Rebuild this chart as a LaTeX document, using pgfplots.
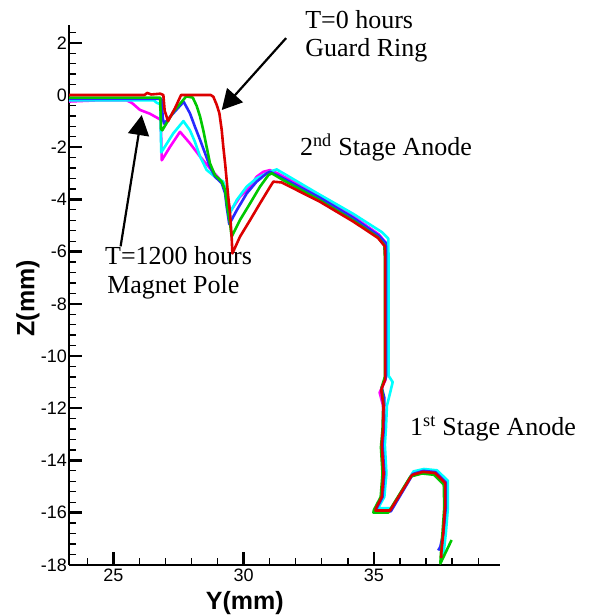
\documentclass[border=0pt]{standalone}
\usepackage{pgfplots}
\pgfplotsset{compat=1.18}
\usepackage{fontspec}
\setmainfont{Liberation Sans}
\newfontfamily\tnr{Liberation Serif}
\usetikzlibrary{arrows.meta}
\definecolor{cred}{RGB}{220,0,0}
\definecolor{cgreen}{RGB}{0,200,0}
\definecolor{cblue}{RGB}{40,40,255}
\definecolor{ccyan}{RGB}{0,255,255}
\definecolor{cmag}{RGB}{255,0,255}
\tikzset{note/.style={anchor=base west, inner sep=0pt, font=\tnr\fontsize{26}{28}\selectfont}, pointer/.style={line width=2.2pt, -{Triangle[length=20pt,width=21pt]}}}

\begin{document}
\begin{tikzpicture}
\begin{axis}[x=26.06pt, y=26.1pt, xmin=23.3, xmax=39.84, ymin=-18, ymax=2.68,
  axis lines*=left, axis line style={line width=2.4pt}, tick align=inside,
  xtick={25,30,35}, ytick={-18,-16,...,2},
  minor xtick={24,26,27,28,29,31,32,33,34,36,37,38,39},
  minor ytick={-17.6,-17.2,...,2.5},
  major tick length=13pt, minor tick length=7pt,
  every major tick/.append style={line width=2.4pt, black},
  every minor tick/.append style={line width=1.3pt, black},
  tick label style={font=\fontsize{18}{20}\selectfont},
  /pgf/number format/assume math mode=true,
  yticklabel style={inner sep=2pt}, xticklabel style={inner sep=4pt},
  xlabel={Y(mm)}, ylabel={Z(mm)},
  every axis x label/.style={at={(axis description cs:0.408,0)}, anchor=center, yshift=-38pt, font=\fontsize{25}{28}\selectfont\bfseries},
  every axis y label/.style={at={(axis description cs:0,0.494)}, anchor=center, xshift=-41pt, rotate=90, font=\fontsize{25}{28}\selectfont\bfseries},
  every axis plot/.append style={line width=2.6pt, line join=round},
  clip=false]

% T = 1200 hours
\addplot[cmag] coordinates {(23.3,-0.25) (24.5,-0.2) (25.5,-0.2) (25.71,-0.3) (26.02,-0.57) (26.41,-0.72) (26.73,-0.9) (26.82,-0.95) (26.86,-2.5) (27.18,-1.98) (27.56,-1.41) (27.94,-1.85) (28.33,-2.36) (28.71,-2.81) (28.97,-3.1) (29.22,-3.38) (29.5,-4.45) (29.86,-3.9) (30.25,-3.51) (30.5,-3.13) (30.76,-2.94) (31.01,-2.88) (31.3,-3.0) (32.9,-3.85) (34.2,-4.65) (35.2,-5.35) (35.45,-5.65) (35.45,-6.2) (35.45,-10.9) (35.22,-11.4) (35.35,-11.9) (35.36,-12.8) (35.31,-13.4) (35.38,-14.5) (35.31,-15.4) (35.1,-15.85) (35.08,-15.93) (35.64,-15.93) (36.48,-14.5) (36.9,-14.4) (37.36,-14.44) (37.76,-14.84) (37.78,-15.8) (37.7,-16.8) (37.62,-17.5) (37.6,-17.7)};
\addplot[ccyan] coordinates {(23.3,-0.2) (26.55,-0.2) (26.67,-0.3) (26.8,-0.35) (26.84,-2.2) (27.3,-1.47) (27.69,-1.0) (27.94,-1.35) (28.13,-1.79) (28.33,-2.36) (28.58,-2.87) (28.9,-3.13) (29.22,-3.32) (29.35,-3.77) (29.43,-4.6) (29.74,-4.02) (30.12,-3.51) (30.5,-3.19) (31.01,-2.94) (31.27,-2.85) (32.8,-3.75) (34.2,-4.55) (35.3,-5.25) (35.55,-5.5) (35.56,-6.2) (35.56,-10.75) (35.72,-11.0) (35.6,-11.5) (35.5,-11.9) (35.46,-12.8) (35.42,-13.4) (35.48,-14.5) (35.4,-15.4) (35.16,-15.83) (35.7,-15.83) (36.52,-14.42) (36.92,-14.33) (37.42,-14.38) (37.84,-14.78) (37.84,-15.8) (37.76,-16.8) (37.68,-17.5) (37.65,-17.7)};
\addplot[cblue] coordinates {(23.3,-0.15) (26.85,-0.15) (26.9,-0.9) (26.95,-1.1) (27.3,-0.7) (27.7,-0.26) (27.94,-0.7) (28.13,-1.21) (28.33,-1.72) (28.52,-2.23) (28.71,-2.75) (28.9,-3.13) (29.16,-3.38) (29.29,-3.77) (29.35,-4.28) (29.45,-4.95) (29.74,-4.41) (30.12,-3.77) (30.5,-3.32) (30.89,-3.0) (31.01,-2.94) (31.4,-3.13) (32.9,-3.92) (34.2,-4.7) (35.2,-5.4) (35.46,-5.68) (35.47,-6.2) (35.47,-10.8) (35.3,-11.2) (35.4,-11.6) (35.38,-12.8) (35.33,-13.4) (35.4,-14.5) (35.33,-15.4) (35.1,-15.85) (35.08,-15.95) (35.65,-15.95) (36.5,-14.52) (36.9,-14.4) (37.36,-14.45) (37.76,-14.85) (37.76,-15.8) (37.66,-16.8) (37.55,-17.3) (37.47,-17.45)};
\addplot[cgreen] coordinates {(23.3,-0.1) (26.8,-0.1) (26.83,-1.3) (26.88,-1.35) (27.3,-0.65) (27.8,-0.05) (28.05,-0.1) (28.2,-0.42) (28.33,-0.83) (28.45,-1.34) (28.58,-1.98) (28.71,-2.62) (28.9,-3.07) (29.16,-3.32) (29.29,-3.64) (29.37,-4.28) (29.48,-4.92) (29.54,-5.43) (29.86,-4.79) (30.25,-4.15) (30.63,-3.51) (30.95,-3.07) (31.08,-3.0) (31.5,-3.25) (32.9,-4.02) (34.2,-4.8) (35.15,-5.45) (35.4,-5.75) (35.42,-6.2) (35.42,-10.8) (35.3,-11.2) (35.36,-11.8) (35.33,-12.8) (35.27,-13.5) (35.33,-14.5) (35.26,-15.4) (35.0,-15.9) (34.98,-16.0) (35.55,-16.0) (36.4,-14.62) (36.85,-14.5) (37.3,-14.55) (37.68,-14.92) (37.7,-15.8) (37.63,-16.8) (37.57,-17.6) (37.55,-17.95) (37.98,-17.05)};
% T = 0 hours
\addplot[cred] coordinates {(23.3,0) (24.5,0) (26.2,0) (26.3,0.08) (26.45,0.02) (26.8,0.05) (26.92,0) (26.97,-0.6) (27.1,-1.0) (27.37,-0.5) (27.6,0) (28.74,0) (28.84,-0.07) (28.97,-0.38) (29.07,-0.7) (29.16,-1.34) (29.22,-1.98) (29.29,-2.62) (29.35,-3.26) (29.41,-3.9) (29.48,-4.53) (29.54,-5.43) (29.57,-6.07) (29.86,-5.43) (30.25,-4.79) (30.63,-4.15) (31.02,-3.51) (31.14,-3.32) (31.46,-3.35) (32.93,-4.09) (34.21,-4.85) (35.16,-5.48) (35.42,-5.8) (35.43,-6.2) (35.43,-10.9) (35.28,-11.3) (35.37,-11.9) (35.35,-12.8) (35.3,-13.4) (35.37,-14.5) (35.3,-15.4) (35.08,-15.82) (35.06,-15.92) (35.62,-15.92) (36.46,-14.56) (36.88,-14.44) (37.34,-14.48) (37.73,-14.87) (37.73,-15.79) (37.66,-16.78) (37.59,-17.51) (37.58,-17.74)};

\node[note] at (axis cs:32.36,2.567) {T=0 hours};
\node[note] at (axis cs:32.36,1.494) {Guard Ring};
\node[note] at (axis cs:32.16,-2.337) {2\textsuperscript{nd} Stage Anode};
\node[note] at (axis cs:24.68,-6.51) {T=1200 hours};
\node[note] at (axis cs:24.76,-7.59) {Magnet Pole};
\node[note] at (axis cs:36.385,-13.03) {1\textsuperscript{st} Stage Anode};
\draw[pointer] (axis cs:31.63,2.18) -- (axis cs:29.16,-0.575);
\draw[pointer] (axis cs:25.28,-5.8) -- (axis cs:26.09,-0.77);

\coordinate (bbll) at (axis cs:20.652,-19.923);
\coordinate (bbur) at (axis cs:43.293,3.640);
\end{axis}
\pgfresetboundingbox
\useasboundingbox (bbll) rectangle (bbur);
\end{tikzpicture}
\end{document}
